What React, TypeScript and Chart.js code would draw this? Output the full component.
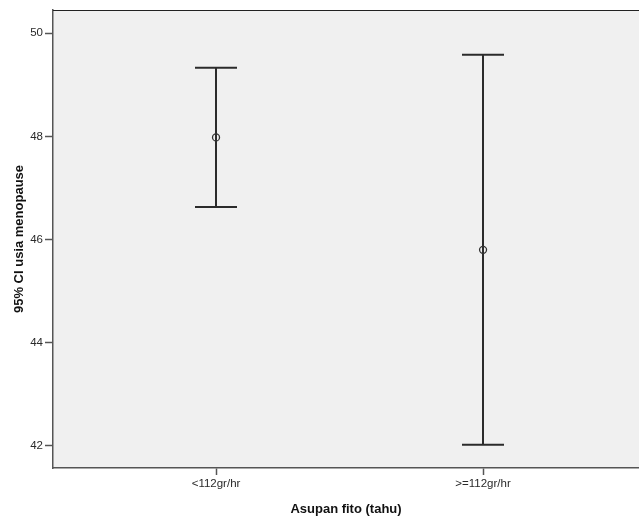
import React, { useEffect, useRef } from "react";
import { Chart, registerables } from "chart.js";

Chart.register(...registerables);

const categories = ["<112gr/hr", ">=112gr/hr"];
const means = [47.98, 45.8];
const lowerCI = [46.63, 42.02];
const upperCI = [49.33, 49.58];
const yTickValues = [42, 44, 46, 48, 50];
const xTitle = "Asupan fito (tahu)";
const yTitle = "95% CI usia menopause";

const FONT = "'Liberation Sans', Arial, sans-serif";

const bgPlugin = {
  id: "plotBg",
  beforeDraw(chart: any) {
    const { ctx, chartArea } = chart;
    ctx.save();
    ctx.fillStyle = "#f0f0f0";
    ctx.fillRect(chartArea.left, chartArea.top, chartArea.right - chartArea.left, chartArea.bottom - chartArea.top);
    ctx.restore();
  },
  afterDraw(chart: any) {
    const { ctx, chartArea } = chart;
    ctx.save();
    ctx.strokeStyle = "#222";
    ctx.lineWidth = 1.2;
    ctx.beginPath();
    ctx.moveTo(chartArea.left, chartArea.top + 0.5);
    ctx.lineTo(chartArea.right, chartArea.top + 0.5);
    ctx.stroke();
    ctx.restore();
  },
};

const errorBarPlugin = {
  id: "errorBars",
  beforeDatasetsDraw(chart: any) {
    const { ctx } = chart;
    const x = chart.scales.x;
    const y = chart.scales.y;
    ctx.save();
    ctx.strokeStyle = "#2b2b2b";
    ctx.lineWidth = 2;
    categories.forEach((_, i) => {
      const px = Math.round(x.getPixelForValue(i));
      const pl = y.getPixelForValue(lowerCI[i]);
      const pu = y.getPixelForValue(upperCI[i]);
      ctx.beginPath();
      ctx.moveTo(px, pu);
      ctx.lineTo(px, pl);
      ctx.moveTo(px - 21, pu);
      ctx.lineTo(px + 21, pu);
      ctx.moveTo(px - 21, pl);
      ctx.lineTo(px + 21, pl);
      ctx.stroke();
    });
    ctx.restore();
  },
};

export default function App() {
  const canvasRef = useRef<HTMLCanvasElement | null>(null);

  useEffect(() => {
    document.body.style.margin = "0";
    const canvas = canvasRef.current;
    if (!canvas) return;
    const chart = new Chart(canvas, {
      type: "scatter",
      data: {
        datasets: [
          {
            data: means.map((m, i) => ({ x: i, y: m })),
            pointRadius: 3.5,
            pointBorderWidth: 1.3,
            borderColor: "#333",
            backgroundColor: "rgba(0,0,0,0)",
            pointBackgroundColor: "rgba(0,0,0,0)",
            pointBorderColor: "#333",
            showLine: false,
          } as any,
        ],
      },
      options: {
        responsive: false,
        animation: false,
        events: [],
        layout: { autoPadding: false, padding: { top: 10, right: 0, left: 0, bottom: 0 } },
        plugins: {
          legend: { display: false },
          tooltip: { enabled: false },
        },
        scales: {
          x: {
            type: "linear",
            min: -0.6105,
            max: 1.584,
            afterBuildTicks: (s: any) => {
              s.ticks = categories.map((_, i) => ({ value: i }));
            },
            afterFit: (s: any) => {
              s.height = 55;
              s.paddingLeft = 0;
              s.paddingRight = 0;
            },
            ticks: {
              callback: (v: any) => categories[Math.round(Number(v))],
              font: { family: FONT, size: 11.5 },
              color: "#2a2a2a",
              padding: 2,
              autoSkip: false,
              maxRotation: 0,
            },
            grid: {
              drawOnChartArea: false,
              drawTicks: true,
              tickLength: 7,
              color: "#555",
              tickWidth: 1.5,
            },
            border: { display: true, color: "#555", width: 1.5 },
            title: {
              display: true,
              text: xTitle,
              font: { family: FONT, size: 13, weight: "bold" },
              color: "#111",
              padding: { top: 0, bottom: 6 },
            },
          },
          y: {
            type: "linear",
            min: 41.57,
            max: 50.45,
            afterBuildTicks: (s: any) => {
              s.ticks = yTickValues.map((v) => ({ value: v }));
            },
            afterFit: (s: any) => {
              s.width = 53;
              s.paddingTop = 0;
              s.paddingBottom = 0;
            },
            ticks: {
              font: { family: FONT, size: 11.5 },
              color: "#2a2a2a",
              padding: 2,
            },
            grid: {
              drawOnChartArea: false,
              drawTicks: true,
              tickLength: 8,
              color: "#555",
              tickWidth: 1.5,
            },
            border: { display: true, color: "#555", width: 1.5 },
            title: {
              display: true,
              text: yTitle,
              font: { family: FONT, size: 13, weight: "bold" },
              color: "#111",
              padding: { top: 12, bottom: 0 },
            },
          },
        },
      } as any,
      plugins: [bgPlugin, errorBarPlugin],
    });
    return () => chart.destroy();
  }, []);

  return (
    <div style={{ position: "absolute", left: 0, top: 0, width: 639, height: 523, background: "#fff" }}>
      <canvas ref={canvasRef} width={639} height={523} style={{ width: 639, height: 523, display: "block" }} />
    </div>
  );
}
